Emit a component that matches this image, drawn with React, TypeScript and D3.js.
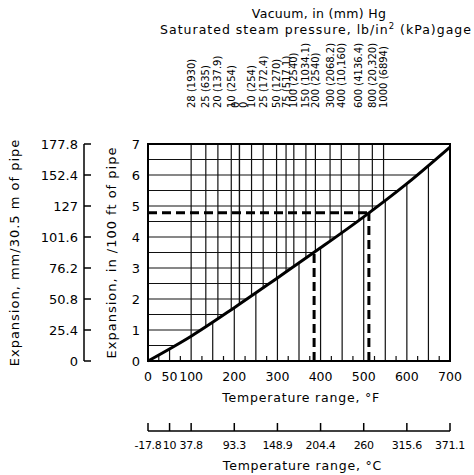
import * as d3 from "d3";

// expansion curve (°F -> in/100 ft)
const curveTemps = [0, 100, 200, 300, 400, 500, 600, 700];
const curveExpansion = [0, 0.8, 1.72, 2.68, 3.65, 4.65, 5.72, 6.9];

// saturation temperatures (°F) for the top scale lines
const vacuumLabels = ["28 (1930)", "25 (635)", "20 (137.9)", "10 (254)", "0"];
const vacuumTemps = [100, 134, 162, 193, 212];
const pressureLabels = ["0", "10 (254)", "25 (172.4)", "50 (1270)", "75 (517.1)", "100 (2540)", "150 (1034.1)", "200 (2540)", "300 (2068.2)", "400 (10,160)", "600 (4136.4)", "800 (20,320)", "1000 (6894)"];
const pressureTemps = [212, 240, 267, 298, 320, 338, 366, 388, 422, 448, 489, 520, 546];

const fTicks = [0, 50, 100, 200, 300, 400, 500, 600, 700];
const cTickLabels = ["-17.8", "10", "37.8", "93.3", "148.9", "204.4", "260", "315.6", "371.1"];
const inTicks = [0, 1, 2, 3, 4, 5, 6, 7];
const mmTickLabels = ["0", "25.4", "50.8", "76.2", "101.6", "127", "152.4", "177.8"];

const lowerGrid = d3.range(50, 700, 50);
const minorTicks = d3.range(25, 700, 50);
const hGrid = d3.range(0.5, 7, 0.5);

// worked examples (dashed)
const exampleTemps = [385, 512];
const exampleExpansion = [3.5, 4.78];

const font = "DejaVu Sans, sans-serif";

export default function App() {
  const width = 474, height = 475;
  const x = d3.scaleLinear([0, 700], [148, 450]);
  const y = d3.scaleLinear([0, 7], [361, 144]);

  const pts = curveTemps.map((t, i) => [t, curveExpansion[i]] as [number, number]);
  const line = d3.line<[number, number]>().x(d => x(d[0])).y(d => y(d[1])).curve(d3.curveMonotoneX);
  const above = d3.area<[number, number]>().x(d => x(d[0])).y0(y(7)).y1(d => y(d[1])).curve(d3.curveMonotoneX);
  const below = d3.area<[number, number]>().x(d => x(d[0])).y0(y(0)).y1(d => y(d[1])).curve(d3.curveMonotoneX);

  const topLabels = [
    ...vacuumLabels.map((l, i) => ({ l, t: vacuumTemps[i], dx: l === "0" ? -4 : 0 })),
    ...pressureLabels.map((l, i) => ({ l, t: pressureTemps[i], dx: l === "0" ? 4 : 0 })),
  ];

  const outerX = 84;

  return (
    <svg width={width} height={height} style={{ position: "absolute", left: 0, top: 0, background: "#fff" }} fontFamily={font}>
      <defs>
        <clipPath id="above"><path d={above(pts)!} /></clipPath>
        <clipPath id="below"><path d={below(pts)!} /></clipPath>
      </defs>

      {/* titles at top */}
      <text x={319} y={18} fontSize={12.5} textAnchor="middle" letterSpacing={0.3}>Vacuum, in (mm) Hg</text>
      <text x={316} y={34} fontSize={12.5} textAnchor="middle" letterSpacing={1}>
        Saturated steam pressure, lb/in<tspan dy={-5} fontSize={8.5}>2</tspan><tspan dy={5}> (kPa)gage</tspan>
      </text>

      {/* top scale labels */}
      {topLabels.map((d, i) => (
        <text key={i} transform={`translate(${x(d.t) + d.dx},108) rotate(-90)`} fontSize={10} dy="0.35em">{d.l}</text>
      ))}

      {/* grid above the curve */}
      <g clipPath="url(#above)" stroke="#111" strokeWidth={1.2}>
        {hGrid.map(v => <line key={"h" + v} x1={x(0)} x2={x(700)} y1={y(v)} y2={y(v)} />)}
        {[...vacuumTemps, ...pressureTemps].map((t, i) => <line key={"u" + i} x1={x(t)} x2={x(t)} y1={y(0)} y2={y(7)} />)}
      </g>

      {/* grid below the curve */}
      <g clipPath="url(#below)" stroke="#111" strokeWidth={1.2}>
        {lowerGrid.map(t => <line key={"l" + t} x1={x(t)} x2={x(t)} y1={y(0)} y2={y(7)} />)}
        {minorTicks.map(t => <line key={"m" + t} x1={x(t)} x2={x(t)} y1={y(0)} y2={y(0) - 5} />)}
      </g>

      {/* dashed examples */}
      <g stroke="#000" strokeWidth={3} strokeDasharray="9 5" fill="none">
        {exampleTemps.map((t, i) => (
          <line key={"dv" + i} x1={x(t)} x2={x(t)} y1={y(0)} y2={y(exampleExpansion[i])} />
        ))}
        <line x1={x(0)} x2={x(exampleTemps[1])} y1={y(exampleExpansion[1])} y2={y(exampleExpansion[1])} />
      </g>

      {/* curve */}
      <path d={line(pts)!} fill="none" stroke="#000" strokeWidth={3} />

      {/* frame */}
      <rect x={x(0)} y={y(7)} width={x(700) - x(0)} height={y(0) - y(7)} fill="none" stroke="#000" strokeWidth={2} />

      {/* inner y labels */}
      {inTicks.map(v => (
        <text key={"iy" + v} x={x(0) - 8} y={y(v)} dy="0.35em" fontSize={13} textAnchor="end">{v}</text>
      ))}
      <text transform={`translate(116,${y(3.5)}) rotate(-90)`} fontSize={13} textAnchor="middle" letterSpacing={1}>Expansion, in /100 ft of pipe</text>

      {/* outer mm axis */}
      <line x1={outerX} x2={outerX} y1={y(0)} y2={y(7)} stroke="#000" strokeWidth={1.5} />
      {inTicks.map((v, i) => (
        <g key={"oy" + v}>
          <line x1={outerX} x2={outerX + 7} y1={y(v)} y2={y(v)} stroke="#000" strokeWidth={1.5} />
          <text x={outerX - 6} y={y(v)} dy="0.35em" fontSize={13} textAnchor="end">{mmTickLabels[i]}</text>
        </g>
      ))}
      <text transform={`translate(19,${y(3.5)}) rotate(-90)`} fontSize={13} textAnchor="middle" letterSpacing={1}>Expansion, mm/30.5 m of pipe</text>

      {/* °F labels */}
      {fTicks.map(t => (
        <text key={"fx" + t} x={x(t)} y={381} fontSize={12.5} textAnchor="middle">{t}</text>
      ))}
      <text x={x(355)} y={402} fontSize={12.5} textAnchor="middle" letterSpacing={0.8}>Temperature range, °F</text>

      {/* °C axis */}
      <line x1={x(0)} x2={x(700)} y1={431} y2={431} stroke="#000" strokeWidth={1.5} />
      {fTicks.map((t, i) => (
        <g key={"cx" + t}>
          <line x1={x(t)} x2={x(t)} y1={431} y2={423} stroke="#000" strokeWidth={1.5} />
          <text x={x(t)} y={449} fontSize={11} textAnchor="middle" letterSpacing={-0.3}>{cTickLabels[i]}</text>
        </g>
      ))}
      <text x={x(358)} y={470} fontSize={12.5} textAnchor="middle" letterSpacing={0.8}>Temperature range, °C</text>
    </svg>
  );
}
